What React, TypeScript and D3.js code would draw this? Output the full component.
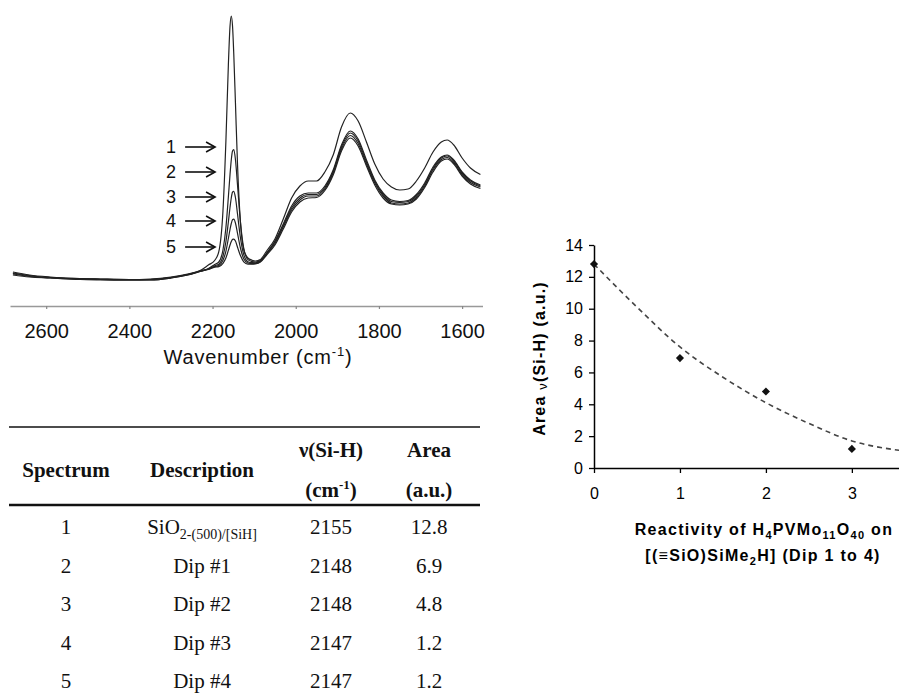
import React, { useEffect, useRef } from "react";
import * as d3 from "d3";

// ---------- IR spectra (wavenumber in cm-1, absorbance in arbitrary units) ----------
const wavenumbers = [
  2680, 2640, 2590, 2520, 2470, 2400, 2350, 2300, 2260, 2230, 2210, 2195, 2185, 2175, 2168,
  2162, 2158, 2155, 2152, 2149, 2145, 2140, 2133, 2125, 2115, 2105, 2097, 2085, 2070, 2050,
  2030, 2010, 1990, 1970, 1950, 1930, 1910, 1890, 1869, 1850, 1830, 1810, 1790, 1770, 1750,
  1730, 1710, 1690, 1670, 1650, 1636, 1620, 1600, 1580, 1556,
];
const spectrum1 = [
  18, 15, 13, 11.5, 11, 10.5, 11, 13, 16, 19.5, 25, 29.5, 38.3, 79, 148,
  225, 264, 274, 264, 236, 187.5, 125.5, 68, 40.3, 32, 29.8, 29, 30.5, 39, 51,
  71, 92, 104, 109, 109, 118, 135, 163, 177, 169, 148, 126, 111, 103, 100,
  101, 109, 122, 138, 148, 150, 145, 132, 122, 115.5,
];
const spectrum2 = [
  17, 14.5, 12.5, 11.5, 11, 10.5, 10.5, 12.5, 15.5, 19, 21.5, 25.5, 28, 40, 62,
  93, 115.6, 130, 139, 140.5, 130.5, 105, 68, 41.6, 30.4, 28.5, 28, 29.5, 37, 49,
  66, 84, 94, 97, 97, 104, 120, 145, 159, 151, 130, 110, 97, 90, 88.5,
  89.5, 95.5, 107, 123, 133, 135, 130, 118, 110, 105,
];
const spectrum3 = [
  16.5, 14, 12.5, 11, 10.5, 10, 10.5, 12.5, 15.5, 19, 21, 24.3, 25.8, 33.8, 48,
  68, 82.7, 92, 97.8, 98.7, 92.5, 76, 52.3, 35.3, 28.3, 27.3, 27.2, 29, 36.5, 48,
  64.5, 82, 92, 95.5, 95.5, 102.5, 118.5, 143, 157, 149, 128, 108.5, 95.5, 88.5, 87.5,
  88.5, 94, 105.5, 121.5, 132, 134, 129, 117, 109, 104,
];
const spectrum4 = [
  16, 13.5, 12, 11, 10.5, 10, 10, 12, 15, 18.5, 21, 23.4, 24.4, 29.7, 38.6,
  51.5, 60.7, 66.5, 70.2, 70.8, 67, 56.6, 42, 31.2, 27, 26.4, 26.5, 28.5, 36, 46.5,
  63, 80, 90, 94, 94, 101, 117, 141, 154.5, 146.5, 126, 107, 94, 87, 86,
  87, 92.5, 104, 120, 130.5, 132.5, 127.5, 115.5, 107.5, 103,
];
const spectrum5 = [
  15, 13, 12, 10.5, 10, 10, 10, 12, 15, 18.5, 20.5, 22.8, 23.4, 26.7, 32,
  39.6, 45, 48.4, 50.6, 50.9, 48.9, 42.8, 34.4, 28.2, 25.9, 25.8, 26.1, 28, 35, 45,
  61, 78, 88, 92, 92.5, 99.5, 115, 139, 152, 144, 124, 105, 92, 86, 85,
  86, 91, 102.5, 118, 129, 131, 126, 114, 106, 101.5,
];
const spectra = [spectrum1, spectrum2, spectrum3, spectrum4, spectrum5];
const wavenumberTicks = [2600, 2400, 2200, 2000, 1800, 1600];

// arrow annotations: label, absorbance level
const arrowLabels = ["1", "2", "3", "4", "5"];
const arrowLevels = [143, 118, 93, 69, 43];
const arrowLabelWn = 2300;
const arrowStartWn = 2266;
const arrowTipWn = 2194;

// ---------- Table ----------
const tableSpectrum = ["1", "2", "3", "4", "5"];
const tableDescMain = ["SiO", "Dip #1", "Dip #2", "Dip #3", "Dip #4"];
const tableDescSub = ["2-(500)/[SiH]", "", "", "", ""];
const tableNu = ["2155", "2148", "2148", "2147", "2147"];
const tableArea = ["12.8", "6.9", "4.8", "1.2", "1.2"];

// ---------- Area vs dip ----------
const dipNumber = [0, 1, 2, 3];
const areaValues = [12.8, 6.9, 4.8, 1.2];
const trendX = [0, 0.5, 1, 1.5, 2, 2.5, 3, 3.5, 3.6];
const trendY = [12.8, 10.1, 7.6, 5.7, 4.1, 2.8, 1.7, 1.15, 1.08];
const areaTicks = [0, 2, 4, 6, 8, 10, 12, 14];
const dipTicks = [0, 1, 2, 3];

const SANS = "'Liberation Sans', Arial, sans-serif";
const SERIF = "'Liberation Serif', 'Times New Roman', serif";

export default function App() {
  const ref = useRef<SVGSVGElement>(null);

  useEffect(() => {
    const svg = d3.select(ref.current);
    svg.selectAll("*").remove();

    // ===== spectra panel =====
    const x = d3.scaleLinear().domain([2687, 1551]).range([10, 482.5]);
    const y = d3.scaleLinear().domain([0, 280]).range([290, 10]);
    const line = d3
      .line<number>()
      .x((_, i) => x(wavenumbers[i]))
      .y((d) => y(d))
      .curve(d3.curveMonotoneX);

    const gS = svg.append("g");
    spectra.forEach((s) => {
      gS.append("path")
        .attr("d", line(s) as string)
        .attr("fill", "none")
        .attr("stroke", "#222")
        .attr("stroke-width", 1.2);
    });

    // arrows
    arrowLabels.forEach((lab, i) => {
      const yy = y(arrowLevels[i]);
      gS.append("text")
        .attr("x", x(arrowLabelWn))
        .attr("y", yy + 6)
        .attr("text-anchor", "middle")
        .attr("font-family", SANS)
        .attr("font-size", 18)
        .attr("fill", "#111")
        .text(lab);
      const x0 = x(arrowStartWn);
      const x1 = x(arrowTipWn);
      gS.append("line")
        .attr("x1", x0).attr("x2", x1).attr("y1", yy).attr("y2", yy)
        .attr("stroke", "#111").attr("stroke-width", 1.6);
      gS.append("path")
        .attr("d", `M${x1 - 9},${yy - 5}L${x1},${yy}L${x1 - 9},${yy + 5}`)
        .attr("fill", "none").attr("stroke", "#111").attr("stroke-width", 1.6);
    });

    const ax = gS
      .append("g")
      .attr("transform", "translate(0,306)")
      .call(d3.axisBottom(x).tickValues(wavenumberTicks).tickSize(3).tickSizeOuter(0).tickPadding(15).tickFormat(d3.format("d")));
    ax.select(".domain").attr("stroke", "#999").attr("stroke-width", 1.6);
    ax.selectAll(".tick line").attr("stroke", "#888").attr("stroke-width", 1.2);
    ax.selectAll("text")
      .attr("font-family", SANS)
      .attr("font-size", 20)
      .attr("fill", "#111");

    const title = gS
      .append("text")
      .attr("x", 258)
      .attr("y", 364)
      .attr("text-anchor", "middle")
      .attr("font-family", SANS)
      .attr("font-size", 20)
      .attr("letter-spacing", 0.8)
      .attr("fill", "#111");
    title.append("tspan").text("Wavenumber (cm");
    title.append("tspan").attr("font-size", 13).attr("dy", -8).text("-1");
    title.append("tspan").attr("dy", 8).text(")");

    // ===== table =====
    const gT = svg.append("g").attr("font-family", SERIF).attr("fill", "#111");
    gT.append("line").attr("x1", 9).attr("x2", 480).attr("y1", 427).attr("y2", 427)
      .attr("stroke", "#111").attr("stroke-width", 1.6);
    gT.append("line").attr("x1", 9).attr("x2", 480).attr("y1", 505).attr("y2", 505)
      .attr("stroke", "#111").attr("stroke-width", 2.4);

    const colX = [66, 202, 331, 429];
    const hdr = (xx: number, yy: number, txt: string) =>
      gT.append("text").attr("x", xx).attr("y", yy + 7).attr("text-anchor", "middle")
        .attr("font-weight", "bold").attr("font-size", 21).text(txt);
    hdr(colX[0], 470, "Spectrum");
    hdr(colX[1], 470, "Description");
    hdr(colX[2], 450, "ν(Si-H)");
    hdr(colX[3], 450, "Area");
    const cm = gT.append("text").attr("x", colX[2]).attr("y", 497).attr("text-anchor", "middle")
      .attr("font-weight", "bold").attr("font-size", 21);
    cm.append("tspan").text("(cm");
    cm.append("tspan").attr("font-size", 13).attr("dy", -8).text("-1");
    cm.append("tspan").attr("dy", 8).text(")");
    hdr(colX[3], 490, "(a.u.)");

    const rowY = d3.scaleLinear().domain([0, 4]).range([527, 681]);
    tableSpectrum.forEach((s, i) => {
      const yy = rowY(i) + 7;
      gT.append("text").attr("x", colX[0]).attr("y", yy).attr("text-anchor", "middle").attr("font-size", 21).text(s);
      const d = gT.append("text").attr("x", colX[1]).attr("y", yy).attr("text-anchor", "middle").attr("font-size", 21);
      d.append("tspan").text(tableDescMain[i]);
      if (tableDescSub[i]) d.append("tspan").attr("font-size", 14).attr("dy", 5).text(tableDescSub[i]);
      gT.append("text").attr("x", colX[2]).attr("y", yy).attr("text-anchor", "middle").attr("font-size", 21).text(tableNu[i]);
      gT.append("text").attr("x", colX[3]).attr("y", yy).attr("text-anchor", "middle").attr("font-size", 21).text(tableArea[i]);
    });

    // ===== area vs dip chart =====
    const xr = d3.scaleLinear().domain([0, 3.56]).range([594, 900]);
    const yr = d3.scaleLinear().domain([0, 14]).range([468, 245]);
    const gR = svg.append("g");

    const trend = d3.line<number>().x((d) => xr(d)).y((_, i) => yr(trendY[i])).curve(d3.curveMonotoneX);
    gR.append("path")
      .attr("d", trend(trendX) as string)
      .attr("fill", "none")
      .attr("stroke", "#444")
      .attr("stroke-width", 1.6)
      .attr("stroke-dasharray", "5,4");

    const yAx = gR.append("g").attr("transform", "translate(594,0)")
      .call(d3.axisLeft(yr).tickValues(areaTicks).tickSize(5).tickSizeOuter(0).tickPadding(6));
    const xAx = gR.append("g").attr("transform", "translate(0,468)")
      .call(d3.axisBottom(xr).tickValues(dipTicks).tickSize(5).tickSizeOuter(0).tickPadding(15).tickFormat(d3.format("d")));
    [yAx, xAx].forEach((g) => {
      g.attr("font-size", 16).attr("font-family", SANS);
      g.select(".domain").attr("stroke", "#000").attr("stroke-width", 1.5);
      g.selectAll(".tick line").attr("stroke", "#000").attr("stroke-width", 1.3);
      g.selectAll("text").attr("font-family", SANS).attr("font-size", 16).attr("fill", "#000");
    });

    const diamond = (d3 as any).symbolDiamond2 || d3.symbolDiamond;
    gR.selectAll("path.pt")
      .data(dipNumber)
      .enter()
      .append("path")
      .attr("class", "pt")
      .attr("d", d3.symbol().type(diamond).size(42) as any)
      .attr("transform", (d, i) => `translate(${xr(d)},${yr(areaValues[i])})`)
      .attr("fill", "#111");

    const yl = gR.append("text")
      .attr("transform", `translate(545,${(yr(0) + yr(14)) / 2 + 2}) rotate(-90)`)
      .attr("text-anchor", "middle")
      .attr("font-family", SANS)
      .attr("font-weight", "bold")
      .attr("font-size", 16)
      .attr("letter-spacing", 1.2)
      .attr("fill", "#000");
    yl.append("tspan").text("Area ");
    yl.append("tspan").attr("font-weight", "normal").attr("font-size", 13).attr("dy", 2).text("ν");
    yl.append("tspan").attr("dy", -2).text("(Si-H) (a.u.)");

    const t1 = gR.append("text")
      .attr("x", 764).attr("y", 535).attr("text-anchor", "middle")
      .attr("font-family", SANS).attr("font-weight", "bold").attr("font-size", 16)
      .attr("letter-spacing", 1.3).attr("fill", "#000");
    t1.append("tspan").text("Reactivity of H");
    t1.append("tspan").attr("font-size", 11).attr("dy", 4).text("4");
    t1.append("tspan").attr("dy", -4).text("PVMo");
    t1.append("tspan").attr("font-size", 11).attr("dy", 4).text("11");
    t1.append("tspan").attr("dy", -4).text("O");
    t1.append("tspan").attr("font-size", 11).attr("dy", 4).text("40");
    t1.append("tspan").attr("dy", -4).text(" on");

    const t2 = gR.append("text")
      .attr("x", 763).attr("y", 561).attr("text-anchor", "middle")
      .attr("font-family", SANS).attr("font-weight", "bold").attr("font-size", 16)
      .attr("letter-spacing", 1.3).attr("fill", "#000");
    t2.append("tspan").text("[(≡SiO)SiMe");
    t2.append("tspan").attr("font-size", 11).attr("dy", 4).text("2");
    t2.append("tspan").attr("dy", -4).text("H] (Dip 1 to 4)");
  }, []);

  return (
    <svg
      ref={ref}
      width={899}
      height={693}
      style={{ position: "absolute", left: 0, top: 0, background: "#fff" }}
    />
  );
}
